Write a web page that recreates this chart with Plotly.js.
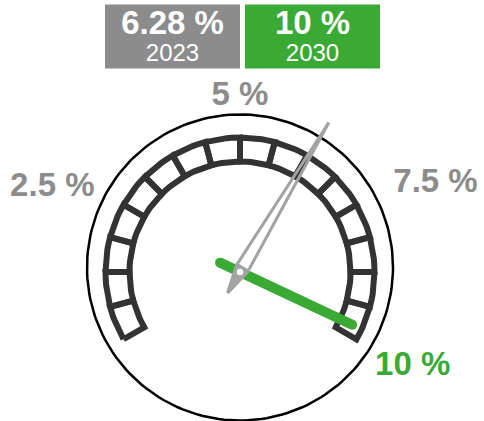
<!DOCTYPE html>
<html>
<head>
<meta charset="utf-8">
<script src="https://cdn.plot.ly/plotly-3.0.1.min.js"></script>
<style>
html,body{margin:0;padding:0;background:#fff;overflow:hidden;}
#chart{width:484px;height:421px;}
</style>
</head>
<body>
<div id="chart"></div>
<script>
// ---- data ----
const scaleRange = [0, 10];
const segmentCount = 16;
const tickValues = [2.5, 5, 7.5, 10];
const tickLabels = ['2.5 %', '5 %', '7.5 %', '10 %'];
const years = ['2023', '2030'];
const boxLabels = ['6.28 %', '10 %'];
const needleValues = [6.28, 9.8];   // 2023 actual, 2030 target (needle as drawn)

// ---- style ----
const GRAY = '#8c8c8c', GREEN = '#3aaa35', DARK = '#333333', NEEDLE_GRAY = '#a3a3a3';
const FONT = '"Liberation Sans", Arial, sans-serif';
const C = {x: 240, y: 272};            // gauge centre / pivot
const RING = {x: 240, y: 267.5, r: 153};
const ARC_OUT = 134.5, ARC_IN = 110.5;
const START = 210, SPAN = 240;
const LABEL_R = [168, 159, 177, 156];
const LABEL_POS = ['middle left', 'top center', 'middle right', 'bottom right'];

function ang(v) { return START - (v - scaleRange[0]) / (scaleRange[1] - scaleRange[0]) * SPAN; }
function pt(cx, cy, r, deg) { const a = deg * Math.PI / 180; return [cx + r * Math.cos(a), cy - r * Math.sin(a)]; }

const traces = [];

// outer thin circle
{
  const xs = [], ys = [];
  for (let d = 0; d <= 360; d += 2) { const p = pt(RING.x, RING.y, RING.r, d); xs.push(p[0]); ys.push(p[1]); }
  traces.push({x: xs, y: ys, mode: 'lines', line: {color: '#000', width: 2.5}, hoverinfo: 'skip'});
}

// segmented arc
{
  const xs = [], ys = [];
  const step = (scaleRange[1] - scaleRange[0]) / segmentCount;
  for (let i = 0; i < segmentCount; i++) {
    const a0 = ang(scaleRange[0] + i * step), a1 = ang(scaleRange[0] + (i + 1) * step);
    const n = 8;
    for (let k = 0; k <= n; k++) { const p = pt(C.x, C.y, ARC_OUT, a0 + (a1 - a0) * k / n); xs.push(p[0]); ys.push(p[1]); }
    for (let k = n; k >= 0; k--) { const p = pt(C.x, C.y, ARC_IN, a0 + (a1 - a0) * k / n); xs.push(p[0]); ys.push(p[1]); }
    const p = pt(C.x, C.y, ARC_OUT, a0); xs.push(p[0]); ys.push(p[1]);
    xs.push(null); ys.push(null);
  }
  traces.push({x: xs, y: ys, mode: 'lines', line: {color: DARK, width: 6}, hoverinfo: 'skip'});
}

// green needle (target)
{
  const a = ang(needleValues[1]);
  const p0 = pt(C.x, C.y, -22, a), p1 = pt(C.x, C.y, 124, a);
  traces.push({x: [p0[0], p1[0]], y: [p0[1], p1[1]], mode: 'lines+markers',
    line: {color: GREEN, width: 10}, marker: {color: GREEN, size: 10}, hoverinfo: 'skip'});
}

// gray needle (actual)
{
  const a = ang(needleValues[0]);
  const rad = a * Math.PI / 180;
  const ux = Math.cos(rad), uy = -Math.sin(rad), vx = -uy, vy = ux;
  const P = (u, v) => [C.x + u * ux + v * vx, C.y + u * uy + v * vy];
  const tip = P(174, 0), s1 = P(5, 6.5), s2 = P(5, -6.5), tail = P(-24, 0);
  traces.push({x: [s1[0], tail[0], s2[0], s1[0]], y: [s1[1], tail[1], s2[1], s1[1]], mode: 'lines', fill: 'toself',
    fillcolor: NEEDLE_GRAY, line: {color: NEEDLE_GRAY, width: 3}, hoverinfo: 'skip'});
  traces.push({x: [tip[0], s1[0], tail[0], s2[0], tip[0]], y: [tip[1], s1[1], tail[1], s2[1], tip[1]], mode: 'lines',
    line: {color: NEEDLE_GRAY, width: 3}, hoverinfo: 'skip'});
  traces.push({x: [C.x], y: [C.y], mode: 'markers', marker: {color: '#fff', size: 9, line: {color: NEEDLE_GRAY, width: 2.5}}, hoverinfo: 'skip'});
}

// tick labels
{
  const xs = [], ys = [], cols = [];
  tickValues.forEach((v, i) => { const p = pt(C.x, C.y, LABEL_R[i], ang(v)); xs.push(p[0]); ys.push(p[1]); cols.push(i === tickValues.length - 1 ? GREEN : GRAY); });
  traces.push({x: xs, y: ys, mode: 'text', text: tickLabels, textposition: LABEL_POS,
    textfont: {family: FONT, size: 33, color: cols, weight: 'bold'}, cliponaxis: false, hoverinfo: 'skip'});
}

// header boxes
const BOX = [{x0: 105, x1: 240, color: GRAY}, {x0: 245, x1: 380, color: GREEN}];
const shapes = BOX.map(b => ({type: 'rect', xref: 'x', yref: 'y', x0: b.x0, x1: b.x1, y0: 4.5, y1: 68.5, fillcolor: b.color, line: {width: 0}, layer: 'below'}));
traces.push({x: BOX.map(b => (b.x0 + b.x1) / 2), y: [26, 26], mode: 'text', text: boxLabels, textposition: 'middle center',
  textfont: {family: FONT, size: 33, color: '#fff', weight: 'bold'}, cliponaxis: false, hoverinfo: 'skip'});
traces.push({x: BOX.map(b => (b.x0 + b.x1) / 2), y: [54.5, 54.5], mode: 'text', text: years, textposition: 'middle center',
  textfont: {family: FONT, size: 24, color: '#fff'}, cliponaxis: false, hoverinfo: 'skip'});

const layout = {
  width: 484, height: 421, margin: {l: 0, r: 0, t: 0, b: 0},
  paper_bgcolor: '#fff', plot_bgcolor: '#fff', showlegend: false, hovermode: false,
  xaxis: {range: [0, 484], visible: false, fixedrange: true},
  yaxis: {range: [421, 0], visible: false, fixedrange: true},
  shapes: shapes
};
Plotly.newPlot('chart', traces, layout, {staticPlot: true, displayModeBar: false});
</script>
</body>
</html>
